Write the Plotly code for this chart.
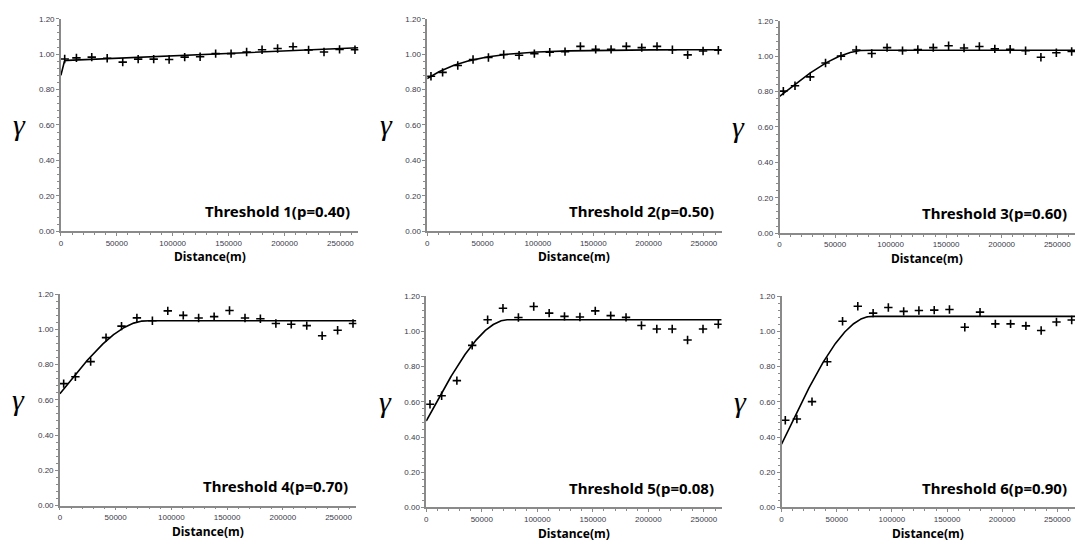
import numpy as np
import plotly.graph_objects as go

W, H = 1079, 542

# Lag distances (m) of the experimental indicator variogram points
lags = [3400, 13900, 27600, 41400, 55300, 69100, 83000, 96800, 110700, 124500,
        138400, 152200, 166100, 179900, 193800, 207600, 221500, 235300, 249200, 263000]

gamma_t1 = [0.973, 0.979, 0.983, 0.977, 0.955, 0.972, 0.972, 0.970, 0.983, 0.985,
            1.003, 1.003, 1.012, 1.025, 1.032, 1.042, 1.024, 1.012, 1.027, 1.025]
gamma_t2 = [0.875, 0.897, 0.936, 0.970, 0.981, 0.998, 0.994, 1.003, 1.011, 1.014,
            1.044, 1.027, 1.027, 1.044, 1.037, 1.044, 1.025, 0.996, 1.018, 1.022]
gamma_t3 = [0.802, 0.833, 0.883, 0.961, 1.000, 1.035, 1.015, 1.048, 1.031, 1.037,
            1.048, 1.059, 1.046, 1.054, 1.041, 1.039, 1.030, 0.994, 1.019, 1.026]
gamma_t4 = [0.692, 0.731, 0.817, 0.953, 1.018, 1.065, 1.049, 1.105, 1.079, 1.064,
            1.072, 1.107, 1.064, 1.060, 1.033, 1.029, 1.021, 0.964, 0.995, 1.033]
gamma_t5 = [0.586, 0.634, 0.720, 0.920, 1.066, 1.131, 1.078, 1.141, 1.103, 1.085,
            1.081, 1.116, 1.089, 1.079, 1.033, 1.013, 1.013, 0.951, 1.013, 1.040]
gamma_t6 = [0.495, 0.502, 0.601, 0.827, 1.057, 1.142, 1.103, 1.135, 1.113, 1.118,
            1.120, 1.124, 1.023, 1.109, 1.042, 1.042, 1.031, 1.005, 1.053, 1.064]

labels = ["Threshold 1(p=0.40)", "Threshold 2(p=0.50)", "Threshold 3(p=0.60)",
          "Threshold 4(p=0.70)", "Threshold 5(p=0.08)", "Threshold 6(p=0.90)"]

# Fitted model parameters: type, nugget, partial sill, range, linear slope
model_type = ["sph", "exp", "sph", "sph", "sph", "sph"]
nugget = [0.880, 0.862, 0.772, 0.635, 0.491, 0.359]
psill = [0.083, 0.163, 0.261, 0.414, 0.575, 0.726]
mrange = [4000, 118000, 78000, 78000, 74000, 82000]
slope = [2.76e-7, 0, 0, 0, 0, 0]

x_ticks = [0, 50000, 100000, 150000, 200000, 250000]
x_ticktext = ["0", "50000", "100000", "150000", "200000", "250000"]
y_ticks = [0.0, 0.2, 0.4, 0.6, 0.8, 1.0, 1.2]
y_ticktext = ["0.00", "0.20", "0.40", "0.60", "0.80", "1.00", "1.20"]

series = [gamma_t1, gamma_t2, gamma_t3, gamma_t4, gamma_t5, gamma_t6]

# pixel layout of each panel: (x_left, x_right, y_top, y_bottom)
boxes = [(59, 357, 15, 231), (426, 721, 15, 231), (779, 1075, 17, 233),
         (58, 355, 295, 510), (425, 721, 297, 512), (781, 1075, 297, 512)]

XMAX = 266000


def model(i, h):
    h = np.asarray(h, dtype=float)
    a = mrange[i]
    if model_type[i] == "sph":
        r = np.minimum(h / a, 1.0)
        s = 1.5 * r - 0.5 * r ** 3
    else:
        s = 1 - np.exp(-3 * h / a)
    return nugget[i] + psill[i] * s + slope[i] * h


fig = go.Figure()
axis_color = "#8a8a8a"
tick_font = dict(family="Liberation Sans, Arial", size=8, color="#3a3a4a")

for i in range(6):
    xl, xr, yt, yb = boxes[i]
    n = "" if i == 0 else str(i + 1)
    xa = "x" + n
    ya = "y" + n
    hh = np.linspace(0, XMAX, 600)
    fig.add_trace(go.Scatter(x=hh, y=model(i, hh), mode="lines",
                             line=dict(color="black", width=1.6),
                             xaxis=xa, yaxis=ya, showlegend=False, hoverinfo="skip"))
    fig.add_trace(go.Scatter(x=lags, y=series[i], mode="markers",
                             marker=dict(symbol="cross-thin", size=6,
                                         line=dict(color="black", width=1.6)),
                             xaxis=xa, yaxis=ya, showlegend=False))
    fig.layout["xaxis" + n] = dict(
        domain=[xl / W, xr / W], anchor=ya, range=[0, XMAX],
        showline=True, linecolor=axis_color, linewidth=1.5,
        ticks="outside", ticklen=3, tickcolor=axis_color, tickwidth=1,
        tickvals=x_ticks, ticktext=x_ticktext, tickfont=tick_font,
        showgrid=False, zeroline=False,
        minor=dict(dtick=10000, tick0=0, ticks="outside", ticklen=2,
                   tickcolor=axis_color, showgrid=False))
    fig.layout["yaxis" + n] = dict(
        domain=[1 - yb / H, 1 - yt / H], anchor=xa, range=[0, 1.2],
        showline=True, linecolor=axis_color, linewidth=1.5,
        ticks="outside", ticklen=3, tickcolor=axis_color, tickwidth=1,
        tickvals=y_ticks, ticktext=y_ticktext, tickfont=tick_font,
        showgrid=False, zeroline=False,
        minor=dict(dtick=0.04, tick0=0, ticks="outside", ticklen=2,
                   tickcolor=axis_color, showgrid=False))
    # threshold label
    fig.add_annotation(text="<b>" + labels[i] + "</b>", xref="paper", yref="paper",
                       x=(xr - 6) / W, y=1 - (yb - 20) / H, xanchor="right", yanchor="middle",
                       showarrow=False,
                       font=dict(family="Noto Sans, Open Sans", size=15, color="black"))
    # distance label
    fig.add_annotation(text="<b>Distance(m)</b>", xref="paper", yref="paper",
                       x=(xl + xr) / 2 / W, y=1 - (yb + 26) / H, xanchor="center", yanchor="middle",
                       showarrow=False,
                       font=dict(family="Noto Sans, Open Sans", size=12, color="black"))
    # gamma symbol
    fig.add_annotation(text="<i>γ</i>", xref="paper", yref="paper",
                       x=(xl - 41) / W, y=1 - (yt + 0.5 * (yb - yt)) / H,
                       xanchor="center", yanchor="middle", showarrow=False,
                       font=dict(family="Liberation Serif, DejaVu Serif", size=30, color="black"))

fig.update_layout(width=W, height=H, margin=dict(l=0, r=0, t=0, b=0),
                  paper_bgcolor="white", plot_bgcolor="white")

fig.write_html("out.html", config={"displayModeBar": False},
               post_script="document.body.style.margin='0';document.body.style.overflow='hidden';")
